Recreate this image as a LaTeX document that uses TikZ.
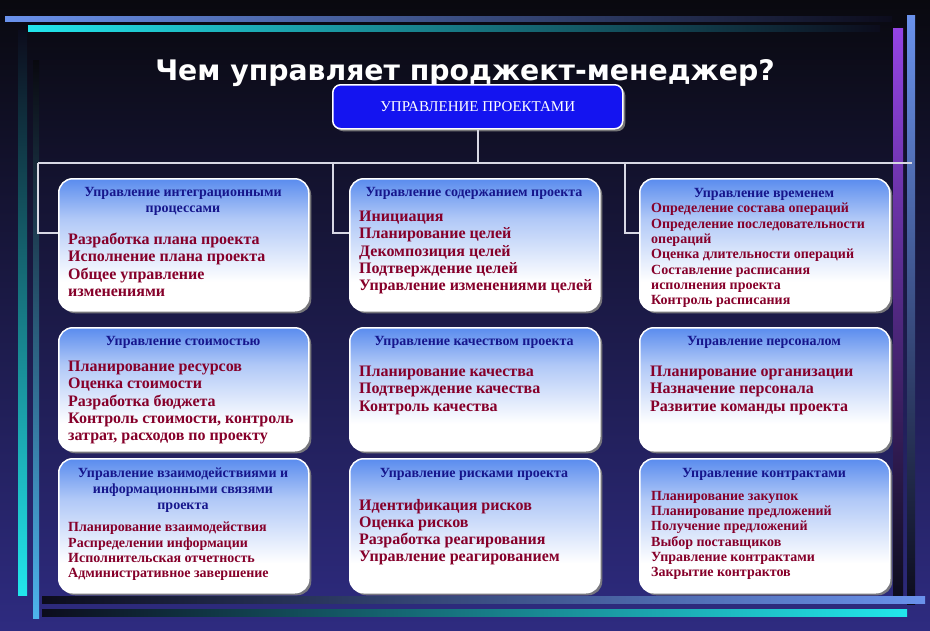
\documentclass[tikz,border=0pt]{standalone}
\usepackage{fontspec}
\setmainfont{Liberation Serif}
\newfontfamily\titlefont{DejaVu Sans}
\usetikzlibrary{shadows}

\definecolor{bgtop}{HTML}{09090F}
\definecolor{bgbot}{HTML}{2E2B80}
\definecolor{tileblue}{HTML}{5A8CEE}
\definecolor{tilemid}{HTML}{B0C8F7}
\definecolor{pmblue}{HTML}{1414F0}
\definecolor{headblue}{HTML}{16168C}
\definecolor{itemred}{HTML}{86002A}
\definecolor{linkgray}{HTML}{D8D8E4}
\definecolor{barcyan}{HTML}{22E6EC}
\definecolor{barblue}{HTML}{6A92EC}
\definecolor{barpurple}{HTML}{9444E4}
\definecolor{bardark}{HTML}{0C0C1C}

\pgfdeclareverticalshading{tileshade}{100bp}{color(0bp)=(white); color(36bp)=(white); color(60bp)=(tilemid); color(75bp)=(tileblue); color(100bp)=(tileblue)}

\tikzset{
  tile/.style={draw=white, line width=1.5pt, rounded corners=14pt, shading=tileshade, anchor=north west,
    drop shadow={shadow xshift=2.5pt, shadow yshift=-2.5pt, fill=gray, opacity=0.9}},
  head/.style={text=headblue, font=\bfseries\fontsize{14}{16}\selectfont, align=center, inner sep=0pt, anchor=north},
  items/.style={text=itemred, font=\bfseries\fontsize{16}{17.2}\selectfont, align=left, inner sep=0pt, anchor=north west},
  small items/.style={items, font=\bfseries\fontsize{14}{15.3}\selectfont},
  link/.style={draw=linkgray, line width=1.6pt},
}

\begin{document}
\begin{tikzpicture}[x=1pt, y=-1pt]
% background and frame bars
\useasboundingbox (0,0) rectangle (930,630);
\fill[top color=bgtop, bottom color=bgbot] (0,0) rectangle (930,630);
\fill[left color=barblue, middle color=barblue!55!bardark, right color=bardark] (5,16) rectangle (892,21);
\fill[left color=barcyan, middle color=barcyan!50!bardark, right color=bardark] (28,25) rectangle (880,31);
\fill[top color=bardark, bottom color=barcyan] (18,30) rectangle (27,595);
\fill[top color=bgtop, bottom color=barblue!60!barcyan] (33,60) rectangle (39,618);
\fill[top color=barpurple, middle color=barpurple!70!bardark, bottom color=bardark] (893,28) rectangle (903,600);
\fill[top color=barblue, bottom color=bardark] (907,15) rectangle (915,604);
\fill[left color=bardark, right color=barblue] (42,596) rectangle (925,603);
\fill[left color=bardark, middle color=barcyan!55!bardark, right color=barcyan] (42,609) rectangle (907,616);

% title
\node[text=white, font=\titlefont\bfseries\fontsize{28.3}{34}\selectfont, anchor=base] (title) at (465,80) {Чем управляет проджект-менеджер?};

% top box
\node[draw=white, line width=1.5pt, fill=pmblue, rounded corners=8pt, minimum width=290, minimum height=44,
  drop shadow={shadow xshift=2.5pt, shadow yshift=-2.5pt, fill=gray, opacity=0.9},
  text=white, font=\fontsize{15}{15}\selectfont, anchor=north west] (pm) at (332,84) {УПРАВЛЕНИЕ ПРОЕКТАМИ};

% connectors
\coordinate (busL) at (38,163);
\coordinate (busS) at (333,163);
\coordinate (busT) at (625,163);
\coordinate (busR) at (912,163);
\draw[link] (pm.south) -- (pm.south |- busL);
\draw[link] (busL) -- (busR);

% row 1
\node[tile, minimum width=250, minimum height=132] (integ) at (58,178) {};
\node[tile, minimum width=250, minimum height=132] (scope) at (349,178) {};
\node[tile, minimum width=250, minimum height=132] (time) at (639,178) {};
% row 2
\node[tile, minimum width=250, minimum height=123] (cost) at (58,327) {};
\node[tile, minimum width=250, minimum height=123] (quality) at (349,327) {};
\node[tile, minimum width=250, minimum height=123] (staff) at (639,327) {};
% row 3
\node[tile, minimum width=250, minimum height=134] (comm) at (58,458) {};
\node[tile, minimum width=250, minimum height=134] (risk) at (349,458) {};
\node[tile, minimum width=250, minimum height=134] (contr) at (639,458) {};

\draw[link] (busL) |- ([yshift=12]integ.west);
\draw[link] (busS) |- ([yshift=12]scope.west);
\draw[link] (busT) |- ([yshift=12]time.west);

% texts
\node[head] (integ-t) at (183,187) {Управление интеграционными\\процессами};
\node[items] (integ-l) at (68,233) {Разработка плана проекта\\Исполнение плана проекта\\Общее управление\\изменениями};
\node[head] (scope-t) at (474,187) {Управление содержанием проекта};
\node[items] (scope-l) at (359,211) {Инициация\\Планирование целей\\Декомпозиция целей\\Подтверждение целей\\Управление изменениями целей};
\node[head] (time-t) at (764,188) {Управление временем};
\node[small items] (time-l) at (651,203) {Определение состава операций\\Определение последовательности\\операций\\Оценка длительности операций\\Составление расписания\\исполнения проекта\\Контроль расписания};

\node[head] (cost-t) at (183,336) {Управление стоимостью};
\node[items] (cost-l) at (68,361) {Планирование ресурсов\\Оценка стоимости\\Разработка бюджета\\Контроль стоимости, контроль\\затрат, расходов по проекту};
\node[head] (quality-t) at (474,336) {Управление качеством проекта};
\node[items] (quality-l) at (359,366) {Планирование качества\\Подтверждение качества\\Контроль качества};
\node[head] (staff-t) at (764,336) {Управление персоналом};
\node[items] (staff-l) at (650,366) {Планирование организации\\Назначение персонала\\Развитие команды проекта};

\node[head] (comm-t) at (183,468) {Управление взаимодействиями и\\информационными связями\\проекта};
\node[small items] (comm-l) at (68,522) {Планирование взаимодействия\\Распределении информации\\Исполнительская отчетность\\Административное завершение};
\node[head] (risk-t) at (474,468) {Управление рисками проекта};
\node[items] (risk-l) at (359,499) {Идентификация рисков\\Оценка рисков\\Разработка реагирования\\Управление реагированием};
\node[head] (contr-t) at (764,468) {Управление контрактами};
\node[small items] (contr-l) at (651,491) {Планирование закупок\\Планирование предложений\\Получение предложений\\Выбор поставщиков\\Управление контрактами\\Закрытие контрактов};
\end{tikzpicture}
\end{document}
